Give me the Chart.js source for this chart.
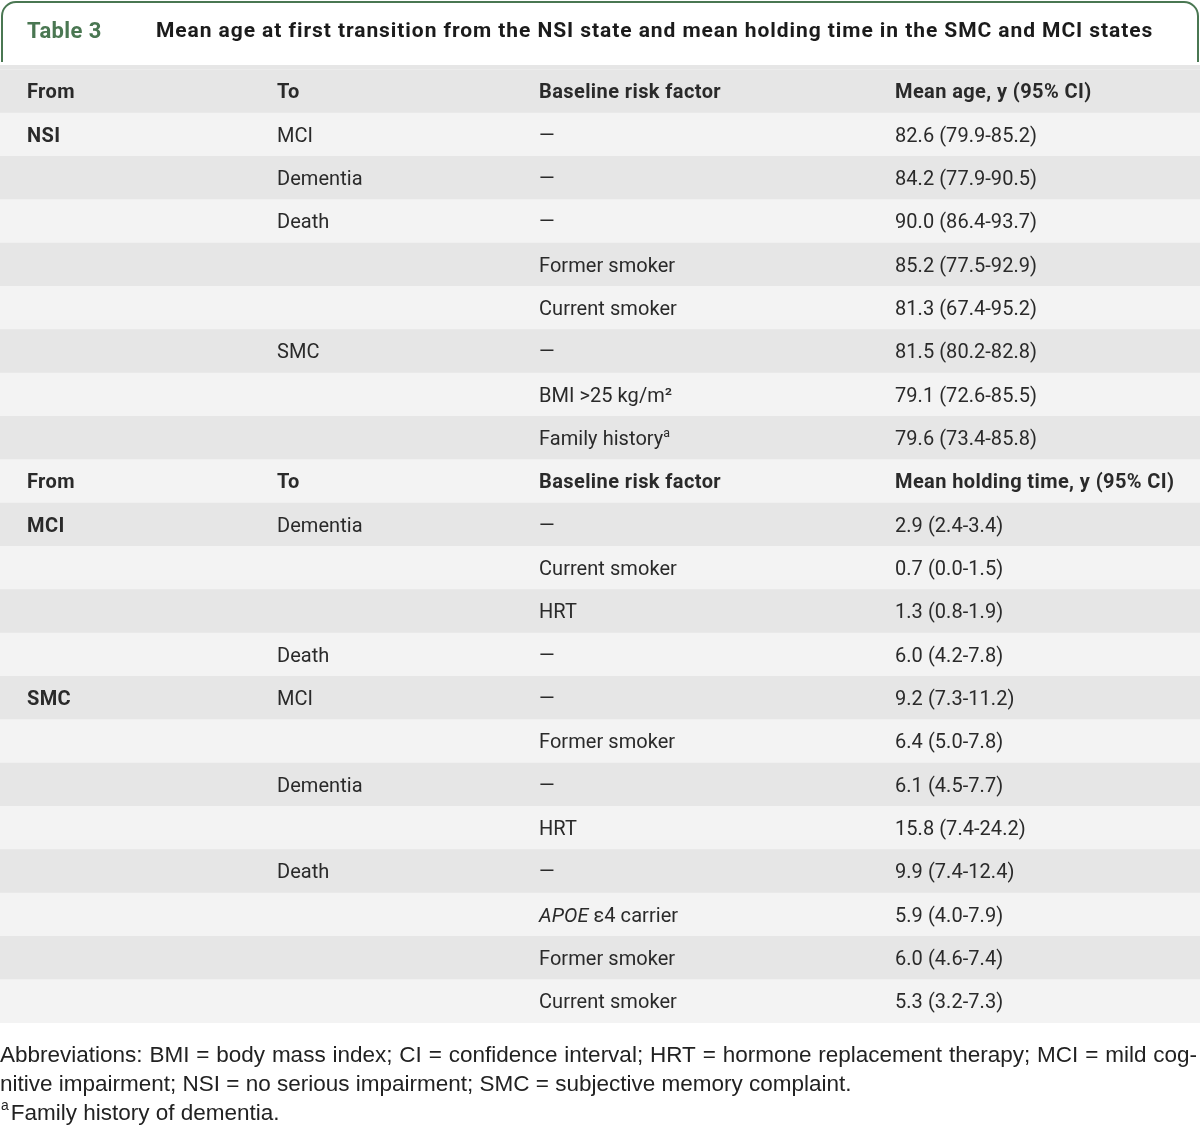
<!DOCTYPE html>
<html>
<head>
<meta charset="utf-8">
<script src="https://cdn.jsdelivr.net/npm/chart.js@4/dist/chart.umd.min.js"></script>
<style>
  body { margin: 0; background: #fff; }
  #caja { width: 1200px; height: 1125px; }
</style>
</head>
<body>
<div id="caja"><canvas id="tabla3" width="1200" height="1125"></canvas></div>
<script>
// column texts, one entry per table row (22 rows, two header rows at 0 and 9)
const colDesde = ["From", "NSI", "", "", "", "", "", "", "",
  "From", "MCI", "", "", "", "SMC", "", "", "", "", "", "", ""];
const colHacia = ["To", "MCI", "Dementia", "Death", "", "", "SMC", "", "",
  "To", "Dementia", "", "", "Death", "MCI", "", "Dementia", "", "Death", "", "", ""];
const colRiesgo = ["Baseline risk factor", "—", "—", "—", "Former smoker", "Current smoker",
  "—", "BMI >25 kg/m²", "Family history^a",
  "Baseline risk factor", "—", "Current smoker", "HRT", "—", "—", "Former smoker",
  "—", "HRT", "—", "*APOE* ε4 carrier", "Former smoker", "Current smoker"];

// mean age at first transition from NSI
const edadMedia = [82.6, 84.2, 90.0, 85.2, 81.3, 81.5, 79.1, 79.6];
const edadBaja = [79.9, 77.9, 86.4, 77.5, 67.4, 80.2, 72.6, 73.4];
const edadAlta = [85.2, 90.5, 93.7, 92.9, 95.2, 82.8, 85.5, 85.8];

// mean holding time in MCI / SMC
const tiempoMedio = [2.9, 0.7, 1.3, 6.0, 9.2, 6.4, 6.1, 15.8, 9.9, 5.9, 6.0, 5.3];
const tiempoBajo = [2.4, 0.0, 0.8, 4.2, 7.3, 5.0, 4.5, 7.4, 7.4, 4.0, 4.6, 3.2];
const tiempoAlto = [3.4, 1.5, 1.9, 7.8, 11.2, 7.8, 7.7, 24.2, 12.4, 7.9, 7.4, 7.3];

const encabezadosValor = ["Mean age, y (95% CI)", "Mean holding time, y (95% CI)"];
const filasEncabezado = [0, 9];

const titulo = "Mean age at first transition from the NSI state and mean holding time in the SMC and MCI states";
const notas = [
  "Abbreviations: BMI = body mass index; CI = confidence interval; HRT = hormone replacement therapy; MCI = mild cog-",
  "nitive impairment; NSI = no serious impairment; SMC = subjective memory complaint.",
  "^aFamily history of dementia."
];

const fmt = (m, lo, hi) => `${m.toFixed(1)} (${lo.toFixed(1)}-${hi.toFixed(1)})`;
const colValor = [
  encabezadosValor[0],
  ...edadMedia.map((m, i) => fmt(m, edadBaja[i], edadAlta[i])),
  encabezadosValor[1],
  ...tiempoMedio.map((m, i) => fmt(m, tiempoBajo[i], tiempoAlto[i])),
];

const columnasX = [27, 277, 539, 895];
const FUENTE = "Roboto";
const colorFilas = ["#e6e6e6", "#f3f3f3"];

// splits "*italic*" and "^sup" markup
function trozos(str) {
  const out = [];
  const re = /\*([^*]+)\*|\^(\w)/g;
  let last = 0, m;
  while ((m = re.exec(str))) {
    if (m.index > last) out.push({ t: str.slice(last, m.index) });
    if (m[1]) out.push({ t: m[1], it: true });
    else out.push({ t: m[2], sup: true });
    last = re.lastIndex;
  }
  if (last < str.length) out.push({ t: str.slice(last) });
  return out;
}

function textoRico(ctx, str, x, y, size, weight, family) {
  trozos(str).forEach((p) => {
    const s = p.sup ? size * 0.62 : size;
    ctx.font = `${p.it ? "italic " : ""}${weight} ${s}px ${family}`;
    ctx.fillText(p.t, x, p.sup ? y - size * 0.33 : y);
    x += ctx.measureText(p.t).width + (p.sup ? 2 : 0);
  });
  return x;
}

// stretches a line to a given width by widening the spaces
function justificada(ctx, str, x, y, ancho, font) {
  ctx.font = font;
  const palabras = str.split(" ");
  const natural = palabras.reduce((s, w) => s + ctx.measureText(w).width, 0);
  const hueco = (ancho - natural) / (palabras.length - 1);
  palabras.forEach((w) => {
    ctx.fillText(w, x, y);
    x += ctx.measureText(w).width + hueco;
  });
}

const pluginTabla = {
  id: "pluginTabla",
  beforeDatasetsDraw(chart) {
    const ctx = chart.ctx;
    ctx.save();
    // strip above the first band belongs to the header row
    ctx.fillStyle = colorFilas[0];
    ctx.fillRect(0, 65, chart.width, chart.chartArea.top - 65);
    // title box, open at the bottom
    ctx.strokeStyle = "#4a7752";
    ctx.lineWidth = 2;
    const r = 14, l = 2, t = 2, rr = 1198, b = 62;
    ctx.beginPath();
    ctx.moveTo(l, b);
    ctx.lineTo(l, t + r);
    ctx.arcTo(l, t, l + r, t, r);
    ctx.lineTo(rr - r, t);
    ctx.arcTo(rr, t, rr, t + r, r);
    ctx.lineTo(rr, b);
    ctx.stroke();
    ctx.restore();
  },
  afterDatasetsDraw(chart) {
    const ctx = chart.ctx;
    const xs = chart.scales.x, ys = chart.scales.y;
    ctx.save();
    ctx.textBaseline = "middle";
    ctx.textAlign = "left";

    ctx.fillStyle = "#4a7752";
    ctx.letterSpacing = "0.4px";
    ctx.font = `bold 22px ${FUENTE}`;
    ctx.fillText("Table 3", 27, 32);

    ctx.fillStyle = "#1b1b1b";
    ctx.font = `bold 21px ${FUENTE}`;
    ctx.letterSpacing = "0px";
    const wt = ctx.measureText(titulo).width;
    ctx.letterSpacing = `${(997 - wt) / titulo.length}px`;
    ctx.fillText(titulo, 156, 32);

    const cols = [colDesde, colHacia, colRiesgo, colValor];
    colDesde.forEach((_, i) => {
      const y = ys.getPixelForValue(i) + 2;
      const enc = filasEncabezado.includes(i);
      cols.forEach((col, c) => {
        if (!col[i]) return;
        const negrita = enc || c === 0;
        ctx.letterSpacing = negrita ? "0.4px" : "0.05px";
        ctx.fillStyle = "#2a2a2a";
        textoRico(ctx, col[i], xs.getPixelForValue(columnasX[c]), y, 20,
          negrita ? "bold" : "normal", FUENTE);
      });
    });

    ctx.letterSpacing = "0px";
    ctx.fillStyle = "#222";
    const fNota = "22.5px 'Liberation Sans'";
    justificada(ctx, notas[0], 0, 1056, 1197, fNota);
    textoRico(ctx, notas[1], 0, 1085, 22.5, "normal", "'Liberation Sans'");
    textoRico(ctx, notas[2], 1, 1114, 22.5, "normal", "'Liberation Sans'");
    ctx.restore();
  },
};

const ctx3 = document.getElementById("tabla3").getContext("2d");

new Chart(ctx3, {
  type: "bar",
  data: {
    labels: colDesde.map((_, i) => String(i)),
    datasets: [
      {
        data: colDesde.map(() => [0, 1200]),
        backgroundColor: colDesde.map((_, i) => colorFilas[i % 2]),
        borderWidth: 0,
        barPercentage: 1,
        categoryPercentage: 1,
      },
    ],
  },
  options: {
    indexAxis: "y",
    responsive: false,
    animation: false,
    layout: { padding: { top: 69.7, bottom: 102, left: 0, right: 0 } },
    plugins: {
      legend: { display: false },
      tooltip: { enabled: false },
    },
    scales: {
      x: { type: "linear", min: 0, max: 1200, display: false },
      y: { display: false },
    },
  },
  plugins: [pluginTabla],
});
</script>
</body>
</html>
